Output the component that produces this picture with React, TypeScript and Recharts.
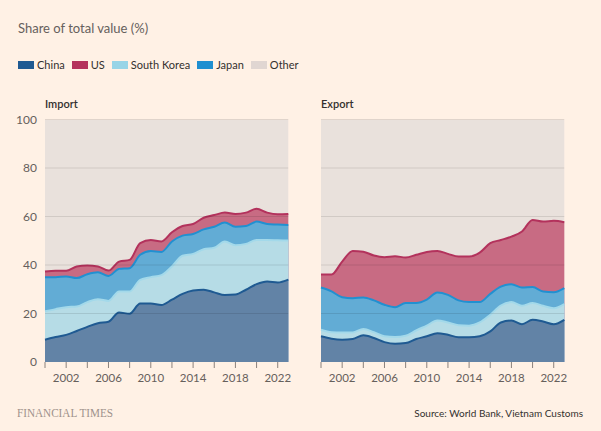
import React from 'react';
import { AreaChart, Area, XAxis, YAxis, ReferenceLine } from 'recharts';

const years = [2000, 2001, 2002, 2003, 2004, 2005, 2006, 2007, 2008, 2009, 2010, 2011, 2012, 2013, 2014, 2015, 2016, 2017, 2018, 2019, 2020, 2021, 2022, 2023];

// Import shares (%)
const importChina = [9.2, 10.3, 11.2, 12.8, 14.5, 16.0, 16.6, 20.4, 19.9, 24.1, 24.1, 23.5, 25.7, 28.1, 29.5, 29.8, 28.7, 27.6, 27.8, 29.8, 32.1, 33.2, 32.8, 34.0];
const importSouthKorea = [11.7, 11.5, 11.4, 10.1, 10.2, 9.9, 8.6, 8.7, 9.2, 9.8, 10.9, 12.3, 13.7, 15.7, 15.1, 16.7, 18.4, 22.1, 20.3, 18.9, 18.2, 17.1, 17.4, 16.1];
const importJapan = [14.1, 13.2, 12.7, 11.7, 11.5, 11.1, 10.3, 9.3, 9.6, 10.3, 10.8, 9.6, 10.3, 8.3, 8.2, 8.2, 8.7, 7.8, 7.7, 7.4, 7.6, 6.6, 6.5, 6.4];
const importUS = [2.3, 2.6, 2.3, 4.8, 3.6, 2.4, 2.2, 3.0, 3.4, 4.8, 4.5, 4.3, 3.8, 4.0, 4.1, 4.8, 4.8, 4.1, 5.2, 5.5, 5.3, 4.7, 4.2, 4.5];
const importOther = [62.7, 62.4, 62.4, 60.6, 60.2, 60.6, 62.3, 58.6, 57.9, 51.0, 49.7, 50.3, 46.5, 43.9, 43.1, 40.5, 39.4, 38.4, 39.0, 38.4, 36.8, 38.4, 39.1, 39.0];

// Export shares (%)
const exportChina = [10.6, 9.6, 9.2, 9.5, 11.0, 9.9, 8.2, 7.5, 7.8, 9.5, 10.6, 11.9, 11.2, 10.2, 10.2, 10.6, 12.6, 16.3, 17.1, 15.6, 17.4, 16.7, 15.6, 17.4];
const exportSouthKorea = [2.7, 2.7, 3.0, 2.7, 2.6, 2.4, 2.4, 2.8, 3.0, 3.5, 4.4, 5.2, 5.1, 5.0, 4.8, 5.7, 6.9, 7.0, 7.6, 7.6, 6.9, 6.5, 6.6, 6.5];
const exportJapan = [17.4, 16.8, 14.5, 14.1, 13.0, 13.1, 13.0, 12.3, 13.5, 11.3, 10.7, 11.6, 11.4, 10.2, 9.7, 8.4, 8.6, 7.8, 7.4, 7.5, 6.6, 5.9, 6.6, 6.6];
const exportUS = [5.4, 7.0, 14.7, 19.5, 18.9, 18.5, 19.6, 21.0, 18.8, 19.9, 19.7, 17.1, 16.9, 18.1, 18.8, 20.4, 20.9, 19.2, 19.6, 23.1, 27.7, 28.8, 29.4, 27.1];
const exportOther = [63.9, 63.9, 58.6, 54.2, 54.5, 56.1, 56.8, 56.4, 56.9, 55.8, 54.6, 54.2, 55.4, 56.5, 56.5, 54.9, 51.0, 49.7, 48.3, 46.2, 41.4, 42.1, 41.8, 42.4];

const xTicks = [2000, 2002, 2004, 2006, 2008, 2010, 2012, 2014, 2016, 2018, 2020, 2022];
const xLabels = [2002, 2006, 2010, 2014, 2018, 2022];
const yTicks = [0, 20, 40, 60, 80, 100];

const COLORS = {
  china: { fill: '#6283a6', stroke: '#1f5a92', swatch: '#1f5a92' },
  us: { fill: '#c86b83', stroke: '#b3325c', swatch: '#b5325c' },
  sk: { fill: '#b6dce6', stroke: '#a3d9ea', swatch: '#96d4e7' },
  jp: { fill: '#62acd5', stroke: '#2190d1', swatch: '#1f8fd0' },
  other: { fill: '#e9e1dc', stroke: 'none', swatch: '#e0d6d2' },
};

const legendItems = [
  { name: 'China', color: COLORS.china.swatch },
  { name: 'US', color: COLORS.us.swatch },
  { name: 'South Korea', color: COLORS.sk.swatch },
  { name: 'Japan', color: COLORS.jp.swatch },
  { name: 'Other', color: COLORS.other.swatch },
];

function buildTable(china: number[], sk: number[], jp: number[], us: number[], other: number[]) {
  return years.map((year, i) => {
    const c = china[i];
    const s = c + sk[i];
    const j = s + jp[i];
    const u = j + us[i];
    const o = u + other[i];
    return { year, china: c, sk: s, jp: j, us: u, other: o };
  });
}

const importData = buildTable(importChina, importSouthKorea, importJapan, importUS, importOther);
const exportData = buildTable(exportChina, exportSouthKorea, exportJapan, exportUS, exportOther);

const FONT = 'Lato, "Noto Sans", sans-serif';
const GRAY = '#66605c';
const DARK = '#33302e';

function Panel({ data, showY, width, margin }: { data: any[]; showY: boolean; width: number; margin: any }) {
  return (
    <AreaChart width={width} height={290} data={data} margin={margin}>
      <XAxis
        dataKey="year"
        type="number"
        domain={[2000, 2023]}
        ticks={xTicks}
        interval={0}
        tickFormatter={(v: number) => (xLabels.includes(v) ? String(v) : '')}
        axisLine={false}
        tickLine={{ stroke: '#8a817c' }}
        tickSize={6}
        tickMargin={6}
        height={28}
        tick={{ fill: GRAY, fontSize: 11.5, fontFamily: FONT }}
      />
      <YAxis
        type="number"
        domain={[0, 100]}
        ticks={yTicks}
        hide={!showY}
        width={45}
        axisLine={false}
        tickLine={false}
        tick={{ fill: GRAY, fontSize: 12, fontFamily: FONT }}
        allowDataOverflow
      />
      <Area type="monotone" dataKey="other" fill={COLORS.other.fill} fillOpacity={1} stroke="none" isAnimationActive={false} dot={false} activeDot={false} />
      <Area type="monotone" dataKey="us" fill={COLORS.us.fill} fillOpacity={1} stroke={COLORS.us.stroke} strokeWidth={2} isAnimationActive={false} dot={false} activeDot={false} />
      <Area type="monotone" dataKey="jp" fill={COLORS.jp.fill} fillOpacity={1} stroke={COLORS.jp.stroke} strokeWidth={2} isAnimationActive={false} dot={false} activeDot={false} />
      <Area type="monotone" dataKey="sk" fill={COLORS.sk.fill} fillOpacity={1} stroke={COLORS.sk.stroke} strokeWidth={2} isAnimationActive={false} dot={false} activeDot={false} />
      <Area type="monotone" dataKey="china" fill={COLORS.china.fill} fillOpacity={1} stroke={COLORS.china.stroke} strokeWidth={2} isAnimationActive={false} dot={false} activeDot={false} />
      {yTicks.filter((t) => t > 0).map((t) => (
        <ReferenceLine key={t} y={t} stroke="#000" strokeOpacity={0.1} strokeWidth={1} />
      ))}
    </AreaChart>
  );
}

export default function App() {
  return (
    <div
      style={{
        position: 'absolute',
        left: 0,
        top: 0,
        width: 601,
        height: 431,
        background: '#fff1e5',
        fontFamily: FONT,
        overflow: 'hidden',
      }}
    >
      <div style={{ position: 'absolute', left: 18, top: 20, lineHeight: '16px', fontSize: 13, color: GRAY }}>
        Share of total value (%)
      </div>
      <div style={{ position: 'absolute', left: 18, top: 57, height: 16, display: 'flex', alignItems: 'center' }}>
        {legendItems.map((it) => (
          <div key={it.name} style={{ display: 'flex', alignItems: 'center', marginRight: 7 }}>
            <div style={{ width: 16, height: 8, background: it.color, marginRight: 3 }} />
            <span style={{ fontSize: 11, color: DARK, lineHeight: '16px' }}>{it.name}</span>
          </div>
        ))}
      </div>
      <div style={{ position: 'absolute', left: 45, top: 96, lineHeight: '16px', fontSize: 11, fontWeight: 600, color: DARK }}>
        Import
      </div>
      <div style={{ position: 'absolute', left: 321, top: 96, lineHeight: '16px', fontSize: 11, fontWeight: 600, color: DARK }}>
        Export
      </div>
      <div style={{ position: 'absolute', left: 0, top: 100 }}>
        <Panel data={importData} showY={true} width={300} margin={{ top: 19.5, right: 11.7, bottom: 0, left: 0 }} />
      </div>
      <div style={{ position: 'absolute', left: 300, top: 100 }}>
        <Panel data={exportData} showY={false} width={301} margin={{ top: 19.5, right: 36.7, bottom: 0, left: 21 }} />
      </div>
      <div
        style={{
          position: 'absolute',
          left: 17,
          top: 405,
          lineHeight: '16px',
          fontSize: 13,
          fontFamily: '"Liberation Serif", serif',
          color: '#9e928b',
          transform: 'scaleX(0.86)',
          transformOrigin: 'left center',
          whiteSpace: 'nowrap',
        }}
      >
        FINANCIAL TIMES
      </div>
      <div style={{ position: 'absolute', right: 18, top: 405, lineHeight: '16px', fontSize: 10, color: DARK, whiteSpace: 'nowrap' }}>
        Source: World Bank, Vietnam Customs
      </div>
    </div>
  );
}
